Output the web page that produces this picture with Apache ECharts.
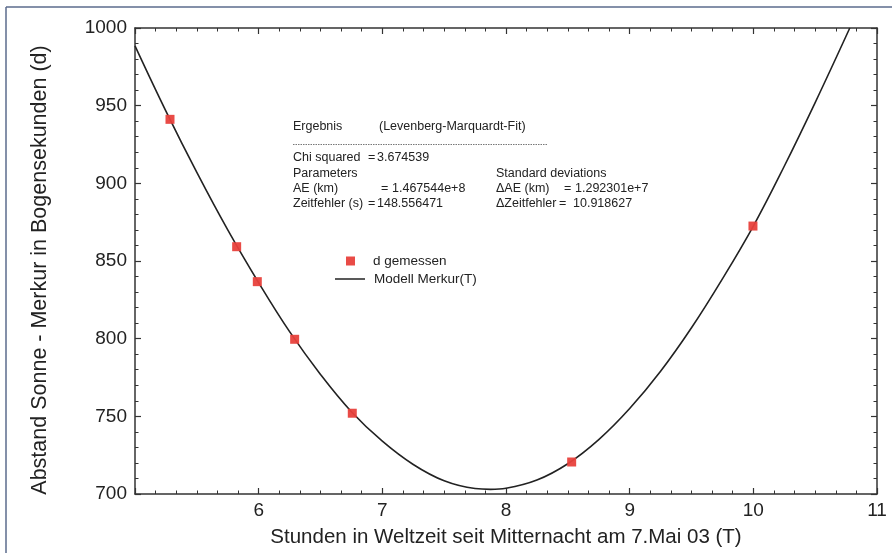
<!DOCTYPE html>
<html>
<head>
<meta charset="utf-8">
<script src="https://cdn.jsdelivr.net/npm/echarts@6/dist/echarts.min.js"></script>
<style>html,body{margin:0;padding:0;background:#fff;}#c{width:892px;height:553px;}</style>
</head>
<body>
<div id="c"></div>
<script>
// Measured points
var tMeasured = [5.283, 5.822, 5.989, 6.291, 6.757, 8.531, 9.997];
var dMeasured = [941.2, 859.2, 836.7, 799.6, 752.0, 720.6, 872.5];
// Model curve
var tModel = [5.0, 5.25, 5.5, 5.75, 6.0, 6.25, 6.5, 6.75, 7.0, 7.25, 7.5, 7.75, 7.875, 8.0, 8.25, 8.5, 8.75, 9.0, 9.25, 9.5, 9.75, 10.0, 10.25, 10.5, 10.78];
var dModel = [988.5, 946.5, 907.0, 870.0, 836.0, 804.5, 777.0, 753.0, 734.0, 719.0, 708.5, 703.5, 703.0, 703.7, 709.0, 719.5, 735.0, 755.0, 779.0, 807.0, 838.5, 872.5, 911.0, 952.0, 1000.0];
var xTicks = [6, 7, 8, 9, 10, 11];
var yTicks = [700, 750, 800, 850, 900, 950, 1000];

var FONT = "'Liberation Sans', Arial, Helvetica, sans-serif";
var TXT = '#222';

function zip(a, b) { return a.map(function (v, i) { return [v, b[i]]; }); }

var axisLine = { show: true, lineStyle: { color: '#333', width: 1.5 } };
var tick = { show: true, inside: true, length: 6, lineStyle: { color: '#333', width: 1.2 } };
var minor = { show: true, length: 3.5, lineStyle: { color: '#333', width: 1 } };

function t(x, y, s) {
  return { type: 'text', left: x, top: y - 8, style: { text: s, font: "12.5px " + FONT, fill: TXT } };
}

var chart = echarts.init(document.getElementById('c'));
chart.setOption({
  animation: false,
  backgroundColor: '#fff',
  grid: { left: 135, right: 15, top: 28, bottom: 59, containLabel: false },
  xAxis: [{
    type: 'value', min: 5, max: 11, interval: 1,
    name: 'Stunden in Weltzeit seit Mitternacht am 7.Mai 03 (T)',
    nameLocation: 'middle', nameGap: 33,
    nameTextStyle: { fontFamily: FONT, fontSize: 20.5, color: TXT },
    axisLine: axisLine, axisTick: tick, minorTick: Object.assign({ splitNumber: 6 }, minor),
    splitLine: { show: false },
    axisLabel: { fontFamily: FONT, fontSize: 19, color: TXT, margin: 7,
      formatter: function (v) { return xTicks.indexOf(v) >= 0 ? String(v) : ''; } }
  }, {
    type: 'value', min: 5, max: 11, interval: 1, position: 'top',
    axisLine: axisLine, axisTick: tick, minorTick: Object.assign({ splitNumber: 6 }, minor),
    splitLine: { show: false }, axisLabel: { show: false }
  }],
  yAxis: [{
    type: 'value', min: 700, max: 1000, interval: 50,
    name: 'Abstand Sonne - Merkur in Bogensekunden (d)',
    nameLocation: 'middle', nameGap: 84,
    nameTextStyle: { fontFamily: FONT, fontSize: 21.5, color: TXT, padding: [0, 18, 0, 0] },
    axisLine: axisLine, axisTick: tick, minorTick: Object.assign({ splitNumber: 5 }, minor),
    splitLine: { show: false },
    axisLabel: { fontFamily: FONT, fontSize: 19, color: TXT, margin: 8,
      formatter: function (v) { return yTicks.indexOf(v) >= 0 ? String(v) : ''; } }
  }, {
    type: 'value', min: 700, max: 1000, interval: 50, position: 'right',
    axisLine: axisLine, axisTick: tick, minorTick: Object.assign({ splitNumber: 5 }, minor),
    splitLine: { show: false }, axisLabel: { show: false }
  }],
  legend: [{
    data: [{ name: 'd gemessen', icon: 'rect' }], left: 346, top: 254, padding: 0,
    itemWidth: 9, itemHeight: 9,
    textStyle: { fontFamily: FONT, fontSize: 13.5, color: TXT, padding: [0, 0, 0, 13] }
  }, {
    data: [{ name: 'Modell Merkur(T)', icon: 'rect' }], left: 335, top: 272, padding: 0,
    itemWidth: 30, itemHeight: 1.5,
    textStyle: { fontFamily: FONT, fontSize: 13.5, color: TXT, padding: [0, 0, 0, 4] }
  }],
  series: [{
    name: 'Modell Merkur(T)', type: 'line', smooth: 0.4, symbol: 'none', showSymbol: false,
    data: zip(tModel, dModel), lineStyle: { color: '#222', width: 1.6 }, itemStyle: { color: '#222' },
    z: 2
  }, {
    name: 'd gemessen', type: 'scatter', symbol: 'rect', symbolSize: 9,
    data: zip(tMeasured, dMeasured), itemStyle: { color: '#e8413c', opacity: 0.95 }, z: 3
  }],
  graphic: [
    { type: 'line', shape: { x1: 6, y1: 7, x2: 892, y2: 7 }, style: { stroke: '#5b6b8c', lineWidth: 1.5 } },
    { type: 'line', shape: { x1: 6, y1: 7, x2: 6, y2: 553 }, style: { stroke: '#5b6b8c', lineWidth: 1.5 } },
    t(293, 128, 'Ergebnis'),
    t(379, 128, '(Levenberg-Marquardt-Fit)'),
    { type: 'line', shape: { x1: 293, y1: 144.5, x2: 547, y2: 144.5 }, style: { stroke: '#555', lineWidth: 0.8, lineDash: [1.5, 1] } },
    t(293, 159, 'Chi squared'), t(368, 159, '='), t(377, 159, '3.674539'),
    t(293, 175, 'Parameters'), t(496, 175, 'Standard deviations'),
    t(293, 190, 'AE (km)'), t(381, 190, '='), t(392, 190, '1.467544e+8'),
    t(496, 190, '\u0394AE (km)'), t(564, 190, '='), t(575, 190, '1.292301e+7'),
    t(293, 205, 'Zeitfehler (s)'), t(368, 205, '='), t(377, 205, '148.556471'),
    t(496, 205, '\u0394Zeitfehler'), t(559, 205, '='), t(573, 205, '10.918627')
  ]
});
</script>
</body>
</html>
